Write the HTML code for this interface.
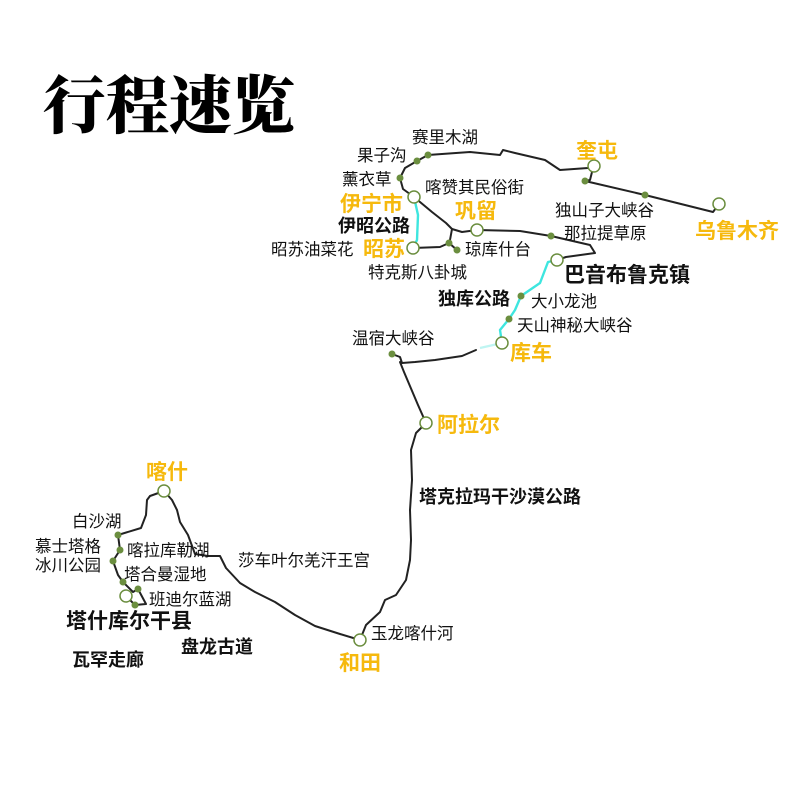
<!DOCTYPE html>
<html><head><meta charset="utf-8"><style>
html,body{margin:0;padding:0;background:#fff;}
svg{display:block}
.t{font-family:"Liberation Sans","Noto Sans CJK SC",sans-serif;font-size:16.5px;fill:#111}
.b{font-family:"Liberation Sans","Noto Sans CJK SC",sans-serif;font-size:18px;font-weight:bold;fill:#111}
.y{font-family:"Liberation Sans","Noto Sans CJK SC",sans-serif;font-size:21px;font-weight:bold;fill:#f6b90d}
.r{fill:none;stroke:#222;stroke-width:2;stroke-linejoin:round;stroke-linecap:round}
.c{fill:none;stroke:#3ee6df;stroke-width:2.4;stroke-linejoin:round;stroke-linecap:round}
.n{fill:#fff;stroke:#6b8e3f;stroke-width:1.5}
.d{fill:#6b8e3f}
</style></head><body>
<svg width="800" height="800" viewBox="0 0 800 800">
<text x="43" y="128" style="font-family:'Noto Serif CJK SC',serif;font-size:63px;font-weight:900;fill:#000">行程速览</text>

<path class="r" d="M414,197 L403,189 L400,178 L405,168 L417,161 L428,155 L470,152 L500,155 L503,150 L515,153 L545,160 L560,170 L588,168 L594,166"/>
<path class="r" d="M592,172 L590,180 L585,181 L645,195 L713,212 L719,204"/>
<path class="r" d="M414,197 L432,212 L446,223 L452,229 L450,240 L449,243 L440,247 L413,248"/>
<path class="r" d="M449,243 L457,250"/>
<path class="r" d="M452,229 L462,232 L477,230 L520,231 L551,236 L590,245 L595,253 L566,257 L557,260"/>
<path class="c" d="M414,197 L418,215 L417,240 L413,248"/>
<path class="c" d="M557,260 L548,262 L540,283 L521,296 L515,310 L509,319 L500,330 L502,343"/>
<path d="M502,343 L480,348" style="fill:none;stroke:#bff5f2;stroke-width:2.4"/>
<path class="r" d="M476,350 L462,356 L435,360 L415,362 L402,363 L400,357 L392,354"/>
<path class="r" d="M400,362 L404,372 L418,405 L426,423 L416,433 L411,450 L412,480 L410,510 L411,540 L410,560 L406,580 L396,595 L385,600 L380,612 L366,625 L360,640"/>
<path class="r" d="M360,640 L340,634 L315,626 L295,615 L275,602 L255,592 L240,583 L226,568 L220,556 L208,556 L195,554 L188,535 L180,522 L177,510 L172,500 L164,491"/>
<path class="r" d="M164,491 L150,496 L147,500 L146,515 L141,528 L118,535 L120,550 L113,561 L118,575 L123,582 L133,592 L138,589 L146,604 L135,605 L126,596"/>

<g class="d">
<circle cx="428" cy="155" r="3.5"/><circle cx="417" cy="161" r="3.5"/><circle cx="400" cy="178" r="3.5"/>
<circle cx="449" cy="243" r="3.5"/><circle cx="457" cy="250" r="3.5"/><circle cx="551" cy="236" r="3.5"/>
<circle cx="645" cy="195" r="3.5"/><circle cx="585" cy="181" r="3.5"/><circle cx="521" cy="296" r="3.5"/>
<circle cx="509" cy="319" r="3.5"/><circle cx="392" cy="354" r="3.5"/><circle cx="118" cy="535" r="3.5"/>
<circle cx="120" cy="550" r="3.5"/><circle cx="113" cy="561" r="3.5"/><circle cx="123" cy="582" r="3.5"/>
<circle cx="138" cy="589" r="3.5"/><circle cx="135" cy="605" r="3.5"/>
</g>
<g class="n">
<circle cx="414" cy="197" r="6"/><circle cx="477" cy="230" r="6"/><circle cx="413" cy="248" r="6"/>
<circle cx="594" cy="166" r="6"/><circle cx="719" cy="204" r="6"/><circle cx="557" cy="260" r="6"/>
<circle cx="502" cy="343" r="6"/><circle cx="426" cy="423" r="6"/><circle cx="360" cy="640" r="6"/>
<circle cx="164" cy="491" r="6"/><circle cx="126" cy="596" r="6"/>
</g>

<text class="t" x="412" y="143">赛里木湖</text>
<text class="t" x="357" y="161">果子沟</text>
<text class="t" x="342" y="185">薰衣草</text>
<text class="t" x="425" y="193">喀赞其民俗街</text>
<text class="y" x="340" y="211">伊宁市</text>
<text class="y" x="455" y="218">巩留</text>
<text class="b" x="338" y="232">伊昭公路</text>
<text class="t" x="271" y="255">昭苏油菜花</text>
<text class="y" x="363" y="256">昭苏</text>
<text class="t" x="465" y="255">琼库什台</text>
<text class="t" x="368" y="278">特克斯八卦城</text>
<text class="y" x="576" y="158">奎屯</text>
<text class="t" x="555" y="216">独山子大峡谷</text>
<text class="t" x="564" y="239">那拉提草原</text>
<text class="y" x="695" y="238">乌鲁木齐</text>
<text class="b" x="564" y="282" style="font-size:21px">巴音布鲁克镇</text>
<text class="b" x="438" y="305">独库公路</text>
<text class="t" x="531" y="307">大小龙池</text>
<text class="t" x="517" y="331">天山神秘大峡谷</text>
<text class="t" x="352" y="344">温宿大峡谷</text>
<text class="y" x="510" y="360">库车</text>
<text class="y" x="437" y="432">阿拉尔</text>
<text class="b" x="419" y="503">塔克拉玛干沙漠公路</text>
<text class="y" x="146" y="479">喀什</text>
<text class="t" x="72" y="527">白沙湖</text>
<text class="t" x="35" y="552">慕士塔格</text>
<text class="t" x="35" y="571">冰川公园</text>
<text class="t" x="127" y="556">喀拉库勒湖</text>
<text class="t" x="238" y="566">莎车叶尔羌汗王宫</text>
<text class="t" x="124" y="580">塔合曼湿地</text>
<text class="t" x="149" y="605">班迪尔蓝湖</text>
<text class="b" x="66" y="628" style="font-size:21px">塔什库尔干县</text>
<text class="b" x="181" y="653">盘龙古道</text>
<text class="b" x="72" y="666">瓦罕走廊</text>
<text class="t" x="371" y="639">玉龙喀什河</text>
<text class="y" x="339" y="670">和田</text>
</svg>
</body></html>
